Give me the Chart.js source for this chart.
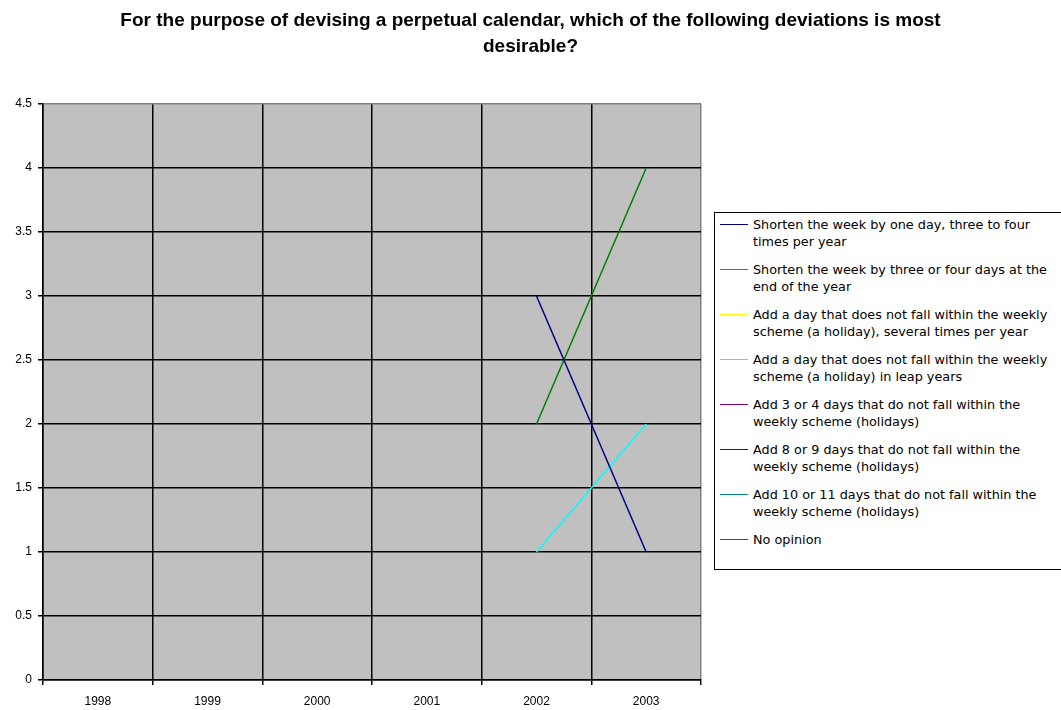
<!DOCTYPE html>
<html>
<head>
<meta charset="utf-8">
<script src="https://cdn.jsdelivr.net/npm/chart.js@4.4.1/dist/chart.umd.min.js"></script>
<style>
    body { margin: 0; background: #fff; overflow: hidden; }
    #wrap { position: relative; width: 1061px; height: 710px; }
    #legend {
        position: absolute; left: 714px; top: 212px; width: 360px; height: 358px;
        border: 1px solid #000; background: #fff; box-sizing: border-box;
        font-family: "DejaVu Sans", Verdana, sans-serif; font-size: 12.8px; color: #000;
        padding-top: 3px;
    }
    .item { position: relative; padding-left: 38px; line-height: 17px; margin-bottom: 11px; white-space: nowrap; }
    .swatch { position: absolute; left: 5px; top: 8px; width: 28px; height: 1px; }
</style>
</head>
<body>
<div id="wrap">
    <canvas id="chart" width="1061" height="710"></canvas>
    <div id="legend"></div>
</div>
<script>
const YEARS = ['1998', '1999', '2000', '2001', '2002', '2003'];

const SHORTEN_ONE_DAY = [null, null, null, null, 3, 1];
const SHORTEN_END_OF_YEAR = [null, null, null, null, null, null];
const HOLIDAY_SEVERAL = [null, null, null, null, null, null];
const HOLIDAY_LEAP = [null, null, null, null, 1, 2];
const ADD_3_4 = [null, null, null, null, null, null];
const ADD_8_9 = [null, null, null, null, null, null];
const ADD_10_11 = [null, null, null, null, null, null];
const NO_OPINION = [null, null, null, null, 2, 4];

const SERIES_NAMES = [
    ['Shorten the week by one day, three to four', 'times per year'],
    ['Shorten the week by three or four days at the', 'end of the year'],
    ['Add a day that does not fall within the weekly', 'scheme (a holiday), several times per year'],
    ['Add a day that does not fall within the weekly', 'scheme (a holiday) in leap years'],
    ['Add 3 or 4 days that do not fall within the', 'weekly scheme (holidays)'],
    ['Add 8 or 9 days that do not fall within the', 'weekly scheme (holidays)'],
    ['Add 10 or 11 days that do not fall within the', 'weekly scheme (holidays)'],
    ['No opinion']
];
const SERIES_VALUES = [SHORTEN_ONE_DAY, SHORTEN_END_OF_YEAR, HOLIDAY_SEVERAL, HOLIDAY_LEAP,
    ADD_3_4, ADD_8_9, ADD_10_11, NO_OPINION];
const SERIES_COLORS = ['#000080', '#FF00FF', '#FFFF00', '#00FFFF', '#800080', '#800000', '#008080', '#008000'];

const TITLE = ['For the purpose of devising a perpetual calendar, which of the following deviations is most', 'desirable?'];

const plotBackground = {
    id: 'plotBackground',
    beforeDraw(chart) {
        const area = chart.chartArea;
        const ctx = chart.ctx;
        ctx.save();
        ctx.fillStyle = '#C0C0C0';
        ctx.fillRect(area.left, area.top, area.right - area.left, area.bottom - area.top);
        ctx.restore();
    }
};

const FONT = { family: '"Liberation Sans", Arial, sans-serif', size: 12 };

const chart = new Chart(document.getElementById('chart').getContext('2d'), {
    type: 'line',
    data: {
        labels: YEARS,
        datasets: SERIES_VALUES.map(function(values, i) {
            return {
                label: SERIES_NAMES[i].join(' '),
                data: values,
                borderColor: SERIES_COLORS[i],
                backgroundColor: SERIES_COLORS[i],
                borderWidth: 1.5,
                pointRadius: 0,
                tension: 0,
                fill: false,
                yAxisID: 'y'
            };
        })
    },
    options: {
        responsive: false,
        animation: false,
        layout: { padding: 0 },
        plugins: {
            legend: { display: false },
            tooltip: { enabled: false },
            title: {
                display: true,
                text: TITLE,
                color: '#000',
                font: { family: '"Liberation Sans", Arial, sans-serif', size: 19, weight: 'bold', lineHeight: 1.37 },
                padding: { top: 8, bottom: 44 }
            }
        },
        scales: {
            x: {
                offset: true,
                grid: {
                    offset: true,
                    color: function(ctx) { return ctx.tick ? '#000' : '#808080'; },
                    tickColor: '#000',
                    tickLength: 5,
                    lineWidth: 1.5
                },
                border: { color: '#000', width: 1.5 },
                ticks: { color: '#000', font: FONT, padding: 9, maxRotation: 0 },
                afterFit: function(scale) { scale.height = 30; }
            },
            y: {
                min: 0,
                max: 4.5,
                ticks: {
                    stepSize: 0.5, color: '#000', font: FONT, padding: 6,
                    callback: function(value) { return String(value); }
                },
                grid: {
                    color: function(ctx) { return ctx.tick && ctx.tick.value === 4.5 ? '#808080' : '#000'; },
                    tickColor: '#000',
                    tickLength: 5,
                    lineWidth: 1.5
                },
                border: { color: '#000', width: 1.5 },
                afterFit: function(scale) { scale.width = 43; }
            },
            // empty strip on the right that keeps room for the legend box
            legendSpace: {
                type: 'linear',
                position: 'right',
                grid: { display: false },
                border: { display: false },
                ticks: { display: false },
                afterFit: function(scale) { scale.width = 360; }
            }
        }
    },
    plugins: [plotBackground]
});

// legend box built from the chart's datasets, keeping the original line breaks
const legendBox = document.getElementById('legend');
chart.data.datasets.forEach(function(ds, i) {
    const item = document.createElement('div');
    item.className = 'item';
    const swatch = document.createElement('div');
    swatch.className = 'swatch';
    swatch.style.background = ds.borderColor;
    item.appendChild(swatch);
    SERIES_NAMES[i].forEach(function(line, j) {
        if (j > 0) item.appendChild(document.createElement('br'));
        item.appendChild(document.createTextNode(line));
    });
    legendBox.appendChild(item);
});
</script>
</body>
</html>
